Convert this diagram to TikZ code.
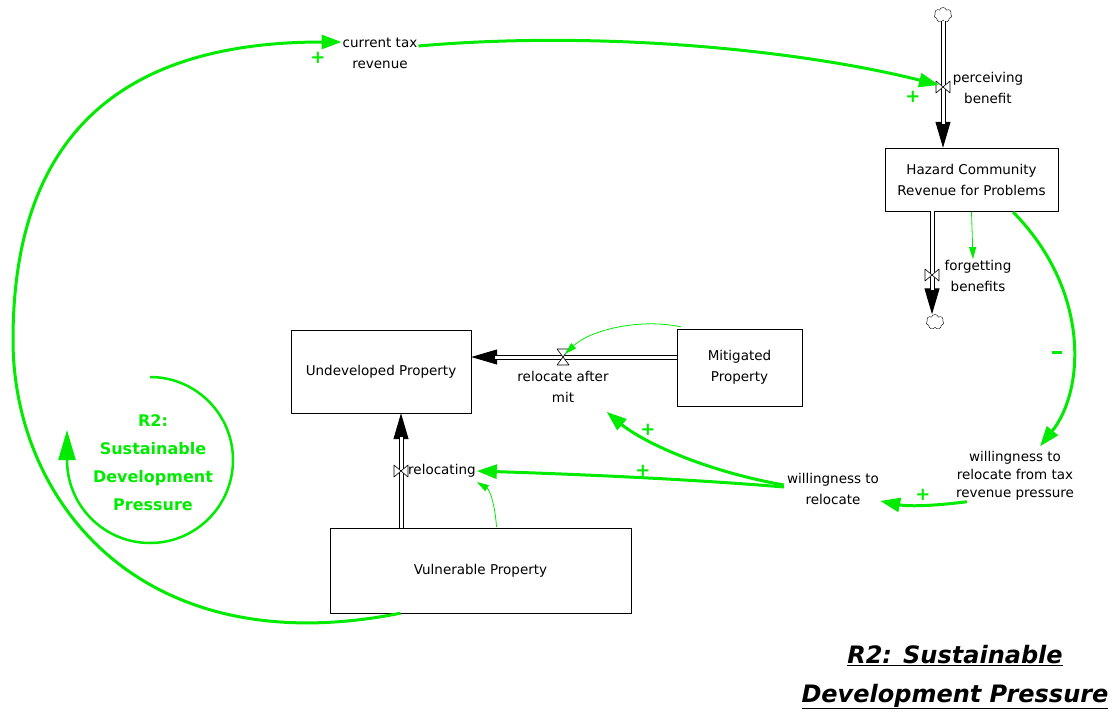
\documentclass[tikz,border=0pt]{standalone}
\usepackage{fontspec}
\setmainfont{DejaVu Sans}
\usetikzlibrary{arrows.meta, positioning, shapes.symbols, calc}
\definecolor{linkgreen}{RGB}{0,235,0}

% valves sitting on the pipes
\tikzset{
  bowtie/.pic={\draw[fill=white, line width=0.6pt] (-7,-6) -- (7,6) -- (7,-6) -- (-7,6) -- cycle;},
  hourglass/.pic={\draw[fill=white, line width=0.6pt] (-6,-8) -- (6,-8) -- (-6,8) -- (6,8) -- cycle;}
}

\begin{document}
\begin{tikzpicture}[
      x = 1pt, y = -1pt,             % one unit per pixel, y down
      font = \fontsize{13.5}{21}\selectfont,
      line join = round
    ]

    \tikzstyle{stock}=[      % stock boxes
      draw, rectangle,
      fill = white,
      align = center,
      inner sep = 0pt
    ]

    \tikzstyle{lbl}=[        % flow and variable names
      align = center,
      inner sep = 1pt
    ]

    \tikzstyle{pipe}=[       % double flow line
      draw = black, line width = 1pt,
      double = white, double distance = 3pt
    ]

    \tikzstyle{pipetip}=[    % head of a flow line
      -{Triangle[length=26pt, width=15pt]},
      line width = 1pt
    ]

    \tikzstyle{link}=[       % thick causal link
      linkgreen, line width = 3pt,
      -{Triangle[length=20pt, width=14pt]}
    ]

    \tikzstyle{thinlink}=[   % thin causal link
      linkgreen, line width = 0.8pt,
      -{Triangle[length=12pt, width=7pt]}
    ]

    \tikzstyle{pol}=[        % link polarity
      linkgreen, font = \fontsize{18}{18}\selectfont\bfseries,
      inner sep = 0pt
    ]

    \useasboundingbox (0,0) rectangle (1119,715);

    % stocks
    \node[stock, minimum width=173pt, minimum height=63pt] (hazard) at (971.5,179.5) {Hazard Community\\Revenue for Problems};
    \node[stock, minimum width=180pt, minimum height=83pt] (undeveloped) at (381,371.5) {Undeveloped Property};
    \node[stock, minimum width=125pt, minimum height=77pt] (mitigated) at (739.5,367.5) {Mitigated\\Property};
    \node[stock, minimum width=301pt, minimum height=85pt] (vulnerable) at (480.5,570.5) {Vulnerable Property};

    % clouds
    \node[cloud, draw, cloud puffs=7, minimum width=18pt, minimum height=15pt, inner sep=0pt] (srccloud) at (943,15) {};
    \node[cloud, draw, cloud puffs=7, minimum width=18pt, minimum height=15pt, inner sep=0pt] (sinkcloud) at (935,322) {};

    % valve positions
    \coordinate (vperc) at (943,87);
    \coordinate (vforget) at (932,275);
    \coordinate (vmit) at (563,357);
    \coordinate (vreloc) at (401,471);

    % flows
    \draw[pipetip] (srccloud.south) -- (srccloud.south |- hazard.north);
    \draw[pipe, shorten >=24pt] (srccloud.south) -- (srccloud.south |- hazard.north);
    \draw[pipetip] (vforget |- hazard.south) -- (vforget |- sinkcloud.north);
    \draw[pipe, shorten >=24pt] (vforget |- hazard.south) -- (vforget |- sinkcloud.north);
    \draw[pipetip] (mitigated.west |- vmit) -- (undeveloped.east |- vmit);
    \draw[pipe, shorten >=24pt] (mitigated.west |- vmit) -- (undeveloped.east |- vmit);
    \draw[pipetip] (vreloc |- vulnerable.north) -- (vreloc |- undeveloped.south);
    \draw[pipe, shorten >=24pt] (vreloc |- vulnerable.north) -- (vreloc |- undeveloped.south);

    \pic at (vperc) {bowtie};
    \pic at (vforget) {bowtie};
    \pic at (vmit) {hourglass};
    \pic at (vreloc) {bowtie};

    % names
    \node[lbl] (perceiving) at (988,88) {perceiving\\benefit};
    \node[lbl] (forgetting) at (978,276) {forgetting\\benefits};
    \node[lbl] (relocmit) at (563,387) {relocate after\\mit};
    \node[lbl, anchor=west] (relocating) at (407,471) {relocating};
    \node[lbl] (taxrev) at (380,53) {current tax\\revenue};
    \node[lbl] (willing) at (833,489) {willingness to\\relocate};
    \node[lbl, font=\fontsize{13.5}{18}\selectfont] (willingtax) at (1015,476) {willingness to\\relocate from tax\\revenue pressure};

    % causal links
    \draw[link] ($(vulnerable.south)+(-80,0)$) .. controls (140,665) and (13,500) .. (13,340)
                .. controls (13,110) and (150,42) .. (taxrev.north west |- 0,42);
    \draw[link] (taxrev.north east |- 0,46) .. controls (600,30) and (800,50) .. ($(vperc)+(-4,-2)$);
    \draw[link] ($(hazard.south east)+(-45,1)$) .. controls (1090,290) and (1085,390) .. ($(willingtax.north)+(25,-4)$);
    \draw[link] ($(willingtax.south west)+(12,0)$) .. controls (925,507) and (905,506) .. ($(willing.south east)+(0,-5)$);
    \draw[link] ($(willing.west)+(-2,-2)$) .. controls (700,480) and (600,475) .. (relocating.east);
    \draw[link] ($(willing.west)+(-2,-4)$) .. controls (700,470) and (640,440) .. ($(relocmit.south east)+(-3,8)$);

    \draw[thinlink] ($(hazard.south)+(0,1)$) -- (forgetting.north -| 973,0);
    \draw[thinlink] ($(mitigated.north west)+(4,-2)$) .. controls (640,318) and (590,330) .. ($(vmit)+(2,-3)$);
    \draw[thinlink] ($(vulnerable.north)+(16,-1)$) .. controls (495,505) and (490,490) .. ($(relocating.east)+(0,11)$);

    % polarities
    \node[pol] (p1) at (318,58) {+};
    \node[pol] (p2) at (913,97) {+};
    \node[pol] (p3) at (1057,352) {\rule{10pt}{3pt}};
    \node[pol] (p4) at (923,495) {+};
    \node[pol] (p5) at (643,471) {+};
    \node[pol] (p6) at (648,430) {+};

    % loop marker
    \coordinate (loopc) at (150,460);
    \draw[linkgreen, line width=2.5pt, -{Triangle[length=30pt, width=17pt]}]
      ($(loopc)+(0,-83)$) arc[start angle=-90, end angle=180, radius=83] -- ++(0,-30);
    \node[lbl, linkgreen, font=\fontsize{16}{28}\selectfont\bfseries] (loopname) at ($(loopc)+(3,3)$) {R2:\\Sustainable\\Development\\Pressure};

    % title
    \node[lbl, font=\fontsize{24}{39}\selectfont\bfseries\itshape] (title) at (955,677)
      {\underline{R2: Sustainable}\\\underline{Development Pressure}};

  \end{tikzpicture}
\end{document}
